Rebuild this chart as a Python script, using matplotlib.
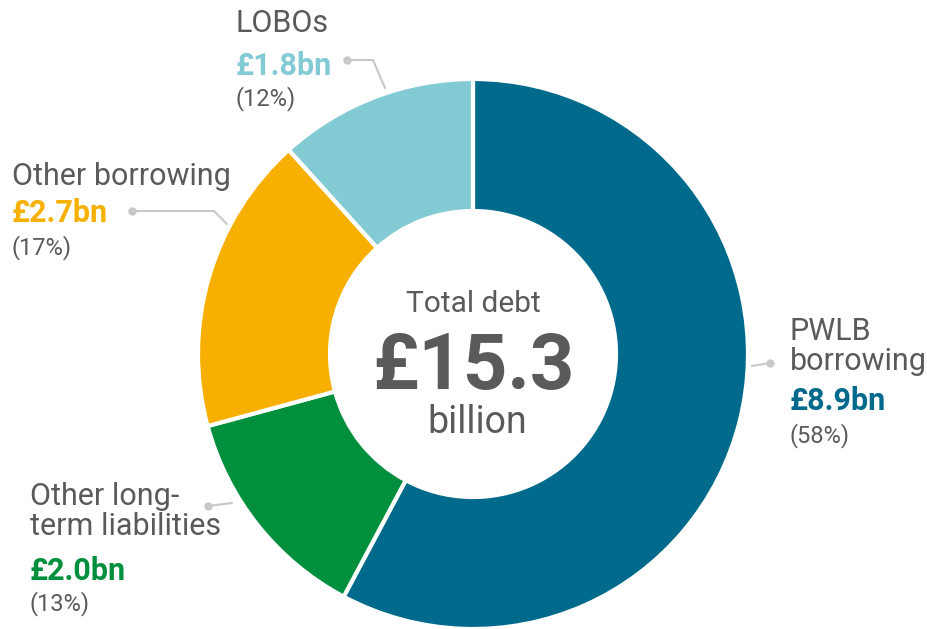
import matplotlib
matplotlib.use("Agg")
import matplotlib.pyplot as plt

categories = ["PWLB\nborrowing", "Other long-\nterm liabilities", "Other borrowing", "LOBOs"]
values_bn = [8.9, 2.0, 2.7, 1.8]
percent_labels = ["(58%)", "(13%)", "(17%)", "(12%)"]
colors = ["#006a8c", "#00903d", "#f8b000", "#82cbd4"]
total_bn = 15.3

W, H = 928, 629
fig = plt.figure(figsize=(W / 100, H / 100), dpi=100)
ax = fig.add_axes([0, 0, 1, 1])

def Y(y):
    return H - y

cx, cy, R, r_in = 473, 354, 275, 143
ax.pie(values_bn, colors=colors, startangle=90, counterclock=False,
       center=(cx, Y(cy)), radius=R, frame=True,
       wedgeprops=dict(width=R - r_in, edgecolor="white", linewidth=3))
ax.set_xlim(0, W)
ax.set_ylim(0, H)
ax.set_aspect("equal")
ax.axis("off")

gray = "#5a5a5a"
fam = ["Roboto", "DejaVu Sans"]

# label blocks: (x, [name line baselines], value baseline, pct baseline)
blocks = [
    (790, [340, 370], 410, 442),
    (30, [505, 535], 580, 610),
    (12, [185], 222, 254),
    (236, [32], 75, 105),
]
for i, (x, name_bl, val_bl, pct_bl) in enumerate(blocks):
    for line, bl in zip(categories[i].split("\n"), name_bl):
        ax.text(x, Y(bl), line, fontsize=22, color=gray, family=fam,
                va="baseline", ha="left")
    ax.text(x, Y(val_bl), f"£{values_bn[i]:.1f}bn", fontsize=22, color=colors[i],
            family=fam, fontweight="bold", va="baseline", ha="left")
    ax.text(x, Y(pct_bl), percent_labels[i], fontsize=17, color=gray, family=fam,
            va="baseline", ha="left")

# leader lines
lc = "#c8c8c8"
leaders = [
    [(770, 363), (752, 366)],
    [(208, 506), (232, 503)],
    [(132, 211), (214, 211), (227, 224)],
    [(347, 60), (373, 60), (385, 88)],
]
for pts in leaders:
    xs = [p[0] for p in pts]
    ys = [Y(p[1]) for p in pts]
    ax.plot(xs, ys, color=lc, lw=1.5, solid_capstyle="round", zorder=5)
    ax.plot(xs[0], ys[0], "o", color=lc, ms=5, zorder=6)

# centre text
ax.text(cx, Y(312), "Total debt", fontsize=21.5, color=gray, family=fam,
        ha="center", va="baseline")
ax.text(cx, Y(389), f"£{total_bn:.1f}", fontsize=56, color=gray, family=fam,
        fontweight="bold", ha="center", va="baseline")
ax.text(cx + 4, Y(433), "billion", fontsize=27, color=gray, family=fam,
        ha="center", va="baseline")

fig.savefig("out.png", dpi=100, facecolor="white")
